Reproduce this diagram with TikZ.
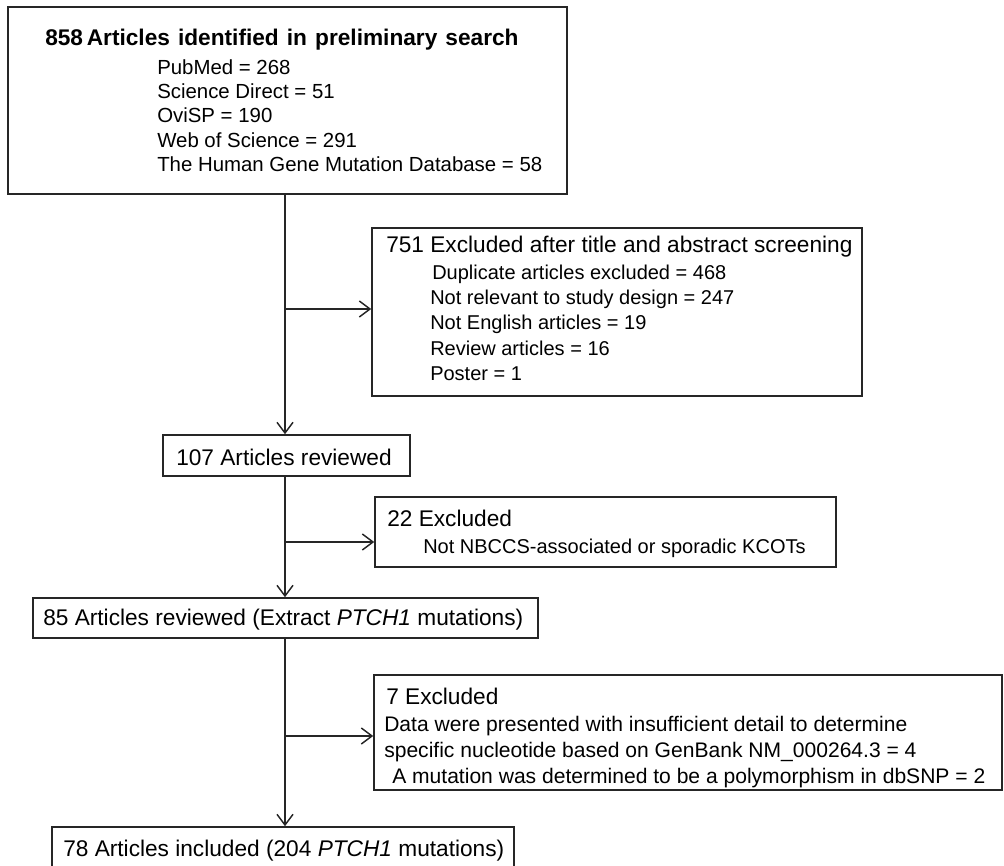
\documentclass[tikz,border=0pt]{standalone}
\usepackage{fontspec}
\setmainfont{Liberation Sans}
\usetikzlibrary{arrows.meta,fit}
\newcommand{\hdrfont}{\fontsize{17}{20}\selectfont}
\newcommand{\subfont}{\fontsize{15}{18}\selectfont}
\newcommand{\subbigfont}{\fontsize{15.3}{18}\selectfont}
\newcommand{\subsixfont}{\fontsize{15.8}{18}\selectfont}
\newcommand{\titlefont}{\fontsize{17}{20}\selectfont\bfseries}
\begin{document}
\begin{tikzpicture}[x=0.75pt,y=-0.75pt,
  box/.style={draw=black!85,line width=1.2pt,inner sep=0pt,fill=none},
  txt/.style={anchor=base west,inner sep=0pt,text=black},
  arr/.style={draw=black!85,line width=1.1pt,-{Straight Barb[length=8pt,width=12pt,line width=1.1pt]}},
  ln/.style={draw=black!85,line width=1.1pt}]
\useasboundingbox (0,0) rectangle (1004,866);
\fill[white] (0,0) rectangle (1004,866);
% boxes
\node[box,fit={(8,7) (567,194)}] (B1) {};
\node[box,fit={(372,228) (862,396)}] (B2) {};
\node[box,fit={(163,435) (410,476)}] (B3) {};
\node[box,fit={(375,497) (836,567)}] (B4) {};
\node[box,fit={(33,598) (538,638)}] (B5) {};
\node[box,fit={(374,675) (1002,790)}] (B6) {};
\node[box,fit={(52,827) (514,874)}] (B7) {};
% box 1 text
\node[txt] (t1a) at (45,46) {\titlefont\makebox[355pt][s]{858\,Articles identified in preliminary search}};
\node[txt] (t1b) at (157,75) {\subbigfont PubMed = 268};
\node[txt] (t1c) at (157,99) {\subbigfont Science Direct = 51};
\node[txt] (t1d) at (157,123) {\subbigfont OviSP = 190};
\node[txt] (t1e) at (157,148) {\subbigfont Web of Science = 291};
\node[txt] (t1f) at (157,172) {\subbigfont The Human Gene Mutation Database = 58};
% box 2 text
\node[txt] (t2a) at (386,253) {\hdrfont 751 Excluded after title and abstract screening};
\node[txt] (t2b) at (432,280) {\subfont Duplicate articles excluded = 468};
\node[txt] (t2c) at (430,305) {\subfont Not relevant to study design = 247};
\node[txt] (t2d) at (430,330) {\subfont Not English articles = 19};
\node[txt] (t2e) at (430,356) {\subfont Review articles = 16};
\node[txt] (t2f) at (430,381) {\subfont Poster = 1};
% box 3
\node[txt] (t3) at (176,465) {\hdrfont 107 Articles reviewed};
% box 4
\node[txt] (t4a) at (387,526) {\hdrfont 22 Excluded};
\node[txt] (t4b) at (423,553) {\subfont Not NBCCS-associated or sporadic KCOTs};
% box 5
\node[txt] (t5) at (43,625) {\hdrfont 85 Articles reviewed (Extract \textit{PTCH1} mutations)};
% box 6
\node[txt] (t6a) at (386,704) {\hdrfont 7 Excluded};
\node[txt] (t6b) at (384,731) {\subsixfont Data were presented with insufficient detail to determine};
\node[txt] (t6c) at (384,757) {\subsixfont specific nucleotide based on GenBank NM\_000264.3 = 4};
\node[txt] (t6d) at (392,783) {\subsixfont A mutation was determined to be a polymorphism in dbSNP = 2};
% box 7
\node[txt] (t7) at (63,856) {\hdrfont 78 Articles included (204 \textit{PTCH1} mutations)};
% junctions
\coordinate (j1) at (285,309);
\coordinate (j2) at (285,542);
\coordinate (j3) at (285,736);
% connectors
\draw[arr] (B1.south -| j1) -- (B3.north -| j1);
\draw[arr] (j1) -- (j1 -| B2.west);
\draw[arr] (B3.south -| j2) -- (B5.north -| j2);
\draw[arr] (j2) -- (j2 -| B4.west);
\draw[arr] (B5.south -| j3) -- (B7.north -| j3);
\draw[arr] (j3) -- (j3 -| B6.west);
\end{tikzpicture}
\end{document}
